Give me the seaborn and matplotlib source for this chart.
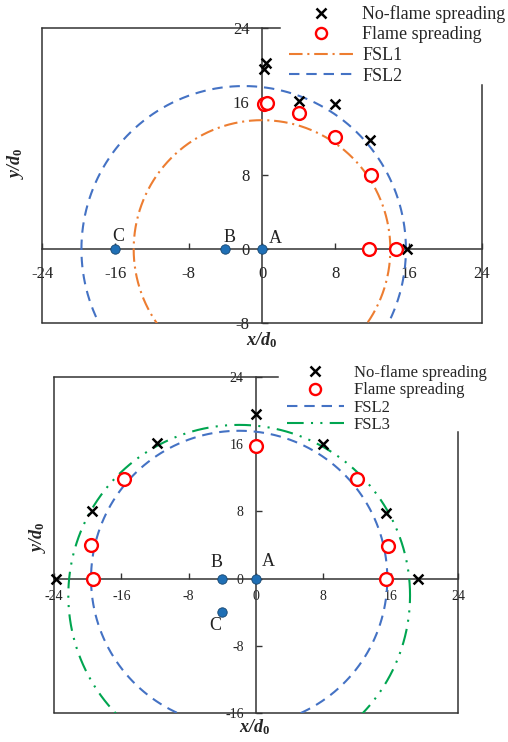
import numpy as np
import pandas as pd
import matplotlib
matplotlib.use("Agg")
import matplotlib.pyplot as plt
import seaborn as sns
from matplotlib.lines import Line2D

# ---------------- data ----------------
# top panel
top_nf_x = [0.4, 0.2, 4.0, 8.0, 11.8, 15.8]
top_nf_y = [20.2, 19.6, 16.1, 15.8, 11.9, 0.0]
top_f_x = [0.2, 0.5, 4.0, 8.0, 11.9, 11.7, 14.6]
top_f_y = [15.7, 15.9, 14.8, 12.2, 8.0, 0.0, 0.0]
top_pt_x = [0.0, -4.0, -16.0]
top_pt_y = [0.0, 0.0, 0.0]
# FSL circles: centre x, centre y, radius
top_fsl_names = ["FSL1", "FSL2"]
top_fsl_cx = [0.0, -2.0]
top_fsl_cy = [0.0, 0.0]
top_fsl_r = [14.0, 17.7]

# bottom panel
bot_nf_x = [0.0, -11.8, 7.9, -19.5, 15.5, -23.8, 19.3]
bot_nf_y = [19.6, 16.2, 16.0, 8.0, 7.8, 0.0, 0.0]
bot_f_x = [0.0, -15.7, 12.0, -19.6, 15.7, -19.4, 15.5]
bot_f_y = [15.8, 11.9, 11.9, 4.0, 3.9, 0.0, 0.0]
bot_pt_x = [0.0, -4.0, -4.0]
bot_pt_y = [0.0, 0.0, -4.0]
bot_fsl_names = ["FSL2", "FSL3"]
bot_fsl_cx = [-2.0, -2.0]
bot_fsl_cy = [0.0, -2.0]
bot_fsl_r = [17.6, 20.3]

pt_labels = ["A", "B", "C"]
x_ticks = [-24, -16, -8, 0, 8, 16, 24]
top_y_ticks = [-8, 0, 8, 16, 24]
bot_y_ticks = [-16, -8, 0, 8, 16, 24]

# ---------------- style ----------------
sns.set_theme(style="white")
plt.rcParams['font.family'] = ['Liberation Serif', 'DejaVu Serif']
plt.rcParams['mathtext.fontset'] = 'custom'
plt.rcParams['mathtext.rm'] = 'Liberation Serif'
plt.rcParams['mathtext.it'] = 'Liberation Serif:italic'
plt.rcParams['mathtext.bf'] = 'Liberation Serif:bold'
plt.rcParams['mathtext.bfit'] = 'Liberation Serif:italic:bold'

AXC = "#333333"
BLUE = "#4472C4"
ORANGE = "#ED7D31"
GREEN = "#00A550"
DOT = "#1F6FB5"
styles = {
    "FSL1": dict(color=ORANGE, linestyle=(0, (6.5, 2.3, 1, 2.3)), lw=1.5),
    "FSL2": dict(color=BLUE, linestyle=(0, (5, 3.3)), lw=1.5),
    "FSL3": dict(color=GREEN, linestyle=(0, (8, 3.5, 1, 3.5, 1, 3.5)), lw=1.5),
}

fig = plt.figure(figsize=(5.08, 7.42), dpi=100)
ax_top = fig.add_axes([0.0827, 0.5647, 0.8661, 0.3976])
ax_bot = fig.add_axes([0.1063, 0.0391, 0.7953, 0.4528])

theta = np.linspace(0, 2 * np.pi, 721)


def draw_panel(ax, nf_x, nf_y, f_x, f_y, pt_x, pt_y, names, cxs, cys, rs,
               ylim, yticks, top_bound, right_bound, tick_fs, xpad, ypad, label_offsets):
    for name, cx, cy, r in zip(names, cxs, cys, rs):
        df = pd.DataFrame({"x": cx + r * np.cos(theta), "y": cy + r * np.sin(theta)})
        st = styles[name]
        sns.lineplot(data=df, x="x", y="y", sort=False, estimator=None, ax=ax,
                     color=st["color"], linestyle=st["linestyle"], lw=st["lw"], zorder=3)
    sns.scatterplot(x=nf_x, y=nf_y, marker="x", color="black", s=50, linewidth=1.8,
                    ax=ax, zorder=5, clip_on=False)
    sns.scatterplot(x=f_x, y=f_y, marker="o", facecolor="white", edgecolor="red",
                    s=85, linewidth=1.7, ax=ax, zorder=5, clip_on=False)
    sns.scatterplot(x=pt_x, y=pt_y, marker="o", color=DOT, edgecolor="#17456e",
                    s=46, linewidth=0.6, ax=ax, zorder=6, clip_on=False)
    for lab, px, py, off in zip(pt_labels, pt_x, pt_y, label_offsets):
        ax.annotate(lab, (px, py), xytext=off, textcoords="offset points",
                    ha="center", va="center", fontsize=13, color="#222222")

    ax.set_xlim(-24, 24)
    ax.set_ylim(*ylim)
    ax.set_xticks(x_ticks)
    ax.set_yticks(yticks)
    ax.set_xticklabels([str(t) for t in x_ticks])
    ax.set_yticklabels([str(t) for t in yticks])

    ax.spines['left'].set_position(('data', 0))
    ax.spines['bottom'].set_position(('data', 0))
    ax.spines['top'].set_bounds(-24, top_bound)
    ax.spines['right'].set_bounds(ylim[0], right_bound)
    for sp in ax.spines.values():
        sp.set_visible(True)
        sp.set_color(AXC)
        sp.set_linewidth(1.1)
        sp.set_zorder(2)
    # left and bottom edges of the frame
    ax.plot([0, 0], [0, 1], transform=ax.transAxes, color=AXC, lw=1.1,
            clip_on=False, zorder=2)
    ax.plot([0, 1], [0, 0], transform=ax.transAxes, color=AXC, lw=1.1,
            clip_on=False, zorder=2)
    ax.tick_params(axis='both', direction='in', length=4, width=1.0, color=AXC,
                   labelsize=tick_fs, labelcolor="#222222")
    ax.tick_params(axis='x', pad=xpad, bottom=True, top=False)
    ax.tick_params(axis='y', pad=ypad, left=True, right=False)
    ax.set_xlabel("")
    ax.set_ylabel("")
    ax.grid(False)


draw_panel(ax_top, top_nf_x, top_nf_y, top_f_x, top_f_y, top_pt_x, top_pt_y,
           top_fsl_names, top_fsl_cx, top_fsl_cy, top_fsl_r,
           (-8, 24), top_y_ticks, 2.0, 17.8, 12, 12, 9,
           [(9.4, 8.0), (3.0, 8.6), (2.0, 9.4)])
draw_panel(ax_bot, bot_nf_x, bot_nf_y, bot_f_x, bot_f_y, bot_pt_x, bot_pt_y,
           bot_fsl_names, bot_fsl_cx, bot_fsl_cy, bot_fsl_r,
           (-16, 24), bot_y_ticks, 2.6, 17.5, 10, 8, 9,
           [(8.6, 12.2), (-4.3, 11.5), (-5.0, -9.4)])

# axis labels
xl = r"$\mathbfit{x/d}_{\mathbf{0}}$"
yl = r"$\mathbfit{y/d}_{\mathbf{0}}$"
ax_top.text(0.5, -0.058, xl, transform=ax_top.transAxes, ha="center", va="center", fontsize=13)
ax_top.text(-0.061, 0.542, yl, transform=ax_top.transAxes, ha="center", va="center",
            fontsize=13, rotation=90)
ax_bot.text(0.4975, -0.042, xl, transform=ax_bot.transAxes, ha="center", va="center", fontsize=13)
ax_bot.text(-0.042, 0.524, yl, transform=ax_bot.transAxes, ha="center", va="center",
            fontsize=13, rotation=90)


def legend_handles(names):
    hs = [Line2D([], [], marker="x", color="black", linestyle="none", markersize=7,
                 markeredgewidth=1.8, label="No-flame spreading"),
          Line2D([], [], marker="o", markerfacecolor="white", markeredgecolor="red",
                 linestyle="none", markersize=8, markeredgewidth=1.7, label="Flame spreading")]
    for n in names:
        st = styles[n]
        hs.append(Line2D([], [], color=st["color"], linestyle=st["linestyle"], lw=st["lw"], label=n))
    return hs


fig.legend(handles=legend_handles(top_fsl_names), loc="upper left",
           bbox_to_anchor=(289 / 508, 1 - 5 / 742), frameon=False, borderpad=0,
           borderaxespad=0, fontsize=13, handlelength=3.55, handletextpad=0.5,
           labelspacing=0.2)
fig.legend(handles=legend_handles(bot_fsl_names), loc="upper left",
           bbox_to_anchor=(287 / 508, 1 - 365 / 742), frameon=False, borderpad=0,
           borderaxespad=0, fontsize=12, handlelength=3.4, handletextpad=0.6,
           labelspacing=0.08)

fig.savefig("out.png", dpi=100)
